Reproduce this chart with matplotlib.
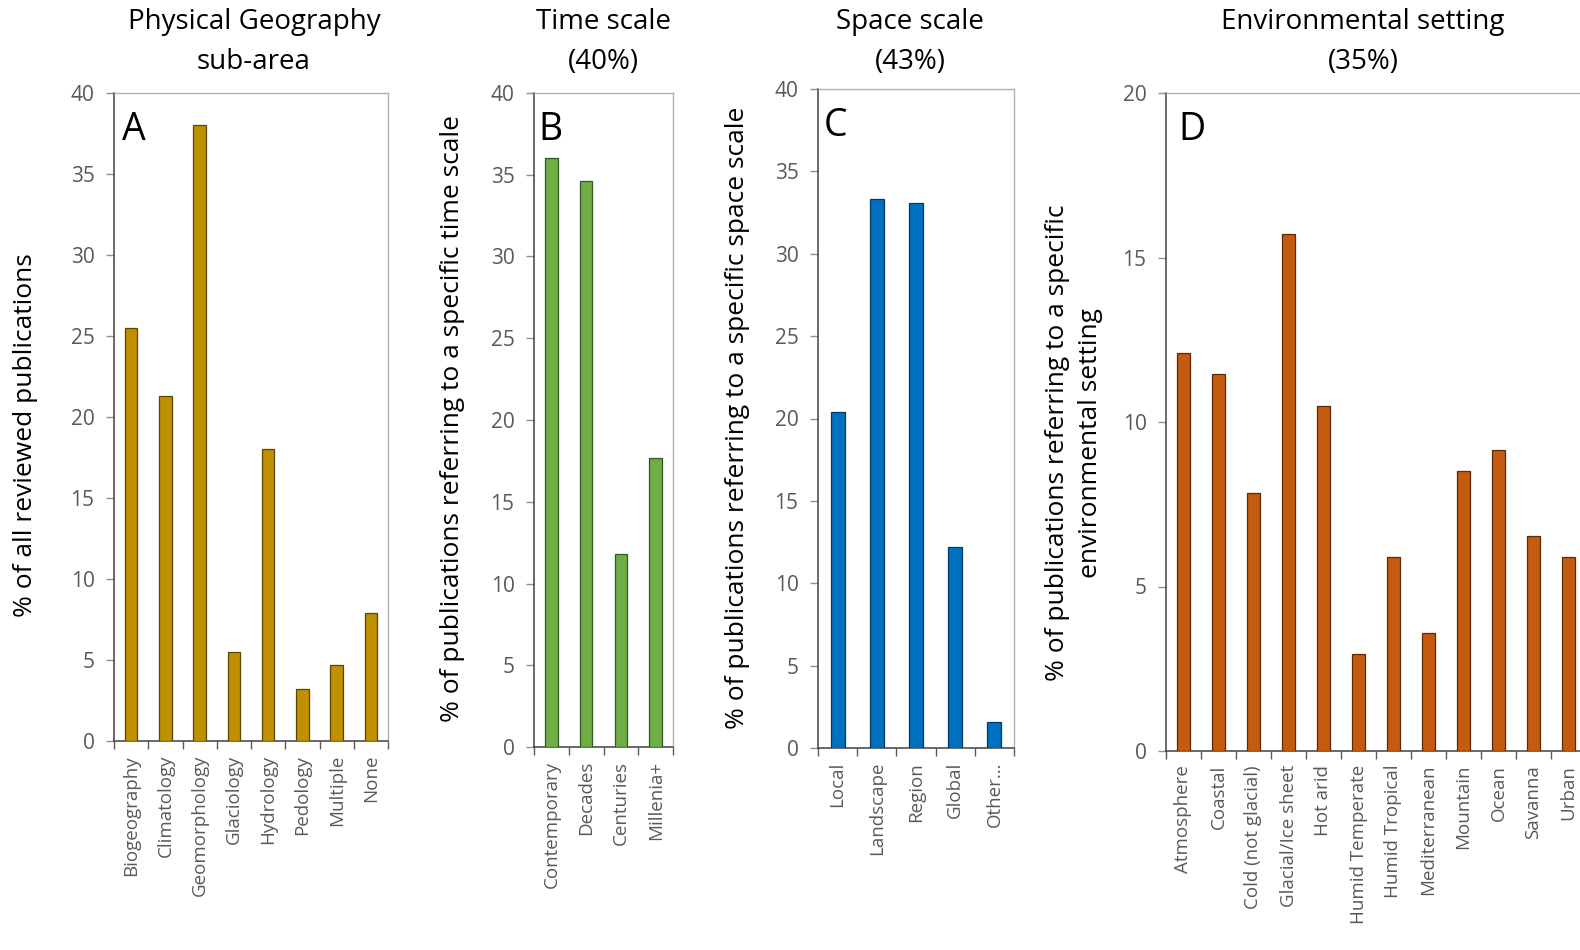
import matplotlib
matplotlib.use("Agg")
import matplotlib.pyplot as plt
import numpy as np

plt.rcParams['font.family'] = ['Open Sans', 'DejaVu Sans']

# ---- data ----
a_cats = ["Biogeography", "Climatology", "Geomorphology", "Glaciology",
          "Hydrology", "Pedology", "Multiple", "None"]
a_vals = [25.5, 21.3, 38.0, 5.5, 18.0, 3.2, 4.7, 7.9]

b_cats = ["Contemporary", "Decades", "Centuries", "Millenia+"]
b_vals = [36.0, 34.6, 11.8, 17.7]

c_cats = ["Local", "Landscape", "Region", "Global", "Other…"]
c_vals = [20.4, 33.3, 33.1, 12.2, 1.6]

d_cats = ["Atmosphere", "Coastal", "Cold (not glacial)", "Glacial/Ice sheet",
          "Hot arid", "Humid Temperate", "Humid Tropical", "Mediterranean",
          "Mountain", "Ocean", "Savanna", "Urban"]
d_vals = [12.1, 11.45, 7.85, 15.7, 10.5, 2.95, 5.9, 3.6, 8.5, 9.15, 6.55, 5.9]

W, H = 1580, 950
fig = plt.figure(figsize=(W / 100, H / 100), dpi=100)

def px_axes(left, right, top, bottom):
    return fig.add_axes([left / W, 1 - bottom / H, (right - left) / W, (bottom - top) / H])

TICK_C = "#595959"

def style(ax, cats, vals, color, edge, ymax, ystep, letter):
    x = np.arange(len(cats))
    ax.bar(x, vals, width=0.36, color=color, edgecolor=edge, linewidth=0.9, zorder=3)
    ax.set_xlim(-0.5, len(cats) - 0.5)
    ax.set_ylim(0, ymax)
    ax.set_yticks(np.arange(0, ymax + 0.1, ystep))
    ax.set_xticks(x)
    ax.set_xticklabels(cats, rotation=90, fontsize=13.5, color=TICK_C)
    ax.set_xticks(np.arange(-0.5, len(cats)), minor=True)
    ax.tick_params(axis='x', which='major', length=0, pad=10)
    ax.tick_params(axis='x', which='minor', length=6, color="#595959", width=1, direction='out')
    ax.tick_params(axis='y', length=6, color="#909090", width=1, direction='out',
                   labelsize=15, labelcolor=TICK_C, pad=8)
    for s in ['left', 'bottom']:
        ax.spines[s].set_color("#404040")
        ax.spines[s].set_linewidth(1.1)
    for s in ['top', 'right']:
        ax.spines[s].set_color("#B0B0B0")
        ax.spines[s].set_linewidth(1.0)
    ax.text(0.03, 0.972, letter, transform=ax.transAxes, fontsize=27,
            va='top', ha='left', color="black")

axA = px_axes(114, 388, 93, 741)
style(axA, a_cats, a_vals, "#BF9000", "#5A4500", 40, 5, "A")
axB = px_axes(534, 673, 93, 747)
style(axB, b_cats, b_vals, "#70AD47", "#2F5A1C", 40, 5, "B")
axC = px_axes(818, 1014, 89, 748)
style(axC, c_cats, c_vals, "#0070C0", "#003A66", 40, 5, "C")
axD = px_axes(1166, 1586, 93, 751)
style(axD, d_cats, d_vals, "#C55A11", "#5E2A05", 20, 5, "D")
axD.spines['right'].set_visible(False)

# titles
TFS = 20
def ftext(x, y, s, **kw):
    fig.text(x / W, 1 - y / H, s, ha='center', va='center', **kw)

ftext(254, 22, "Physical Geography", fontsize=TFS)
ftext(254, 62, "sub-area", fontsize=TFS)
ftext(603, 22, "Time scale", fontsize=TFS)
ftext(603, 62, "(40%)", fontsize=TFS)
ftext(910, 22, "Space scale", fontsize=TFS)
ftext(910, 62, "(43%)", fontsize=TFS)
ftext(1363, 22, "Environmental setting", fontsize=TFS)
ftext(1363, 62, "(35%)", fontsize=TFS)

# y labels
YFS = 19
ftext(26, 435, "% of all reviewed publications", fontsize=YFS, rotation=90)
ftext(452, 418, "% of publications referring to a specific time scale", fontsize=YFS, rotation=90)
ftext(737, 418, "% of publications referring to a specific space scale", fontsize=YFS, rotation=90)
fig.text(1074 / W, 1 - 443 / H, "% of publications referring to a specific\nenvironmental setting",
         fontsize=YFS, rotation=90, ha='center', va='center', multialignment='center',
         linespacing=1.45)

fig.savefig("out.png", dpi=100)
